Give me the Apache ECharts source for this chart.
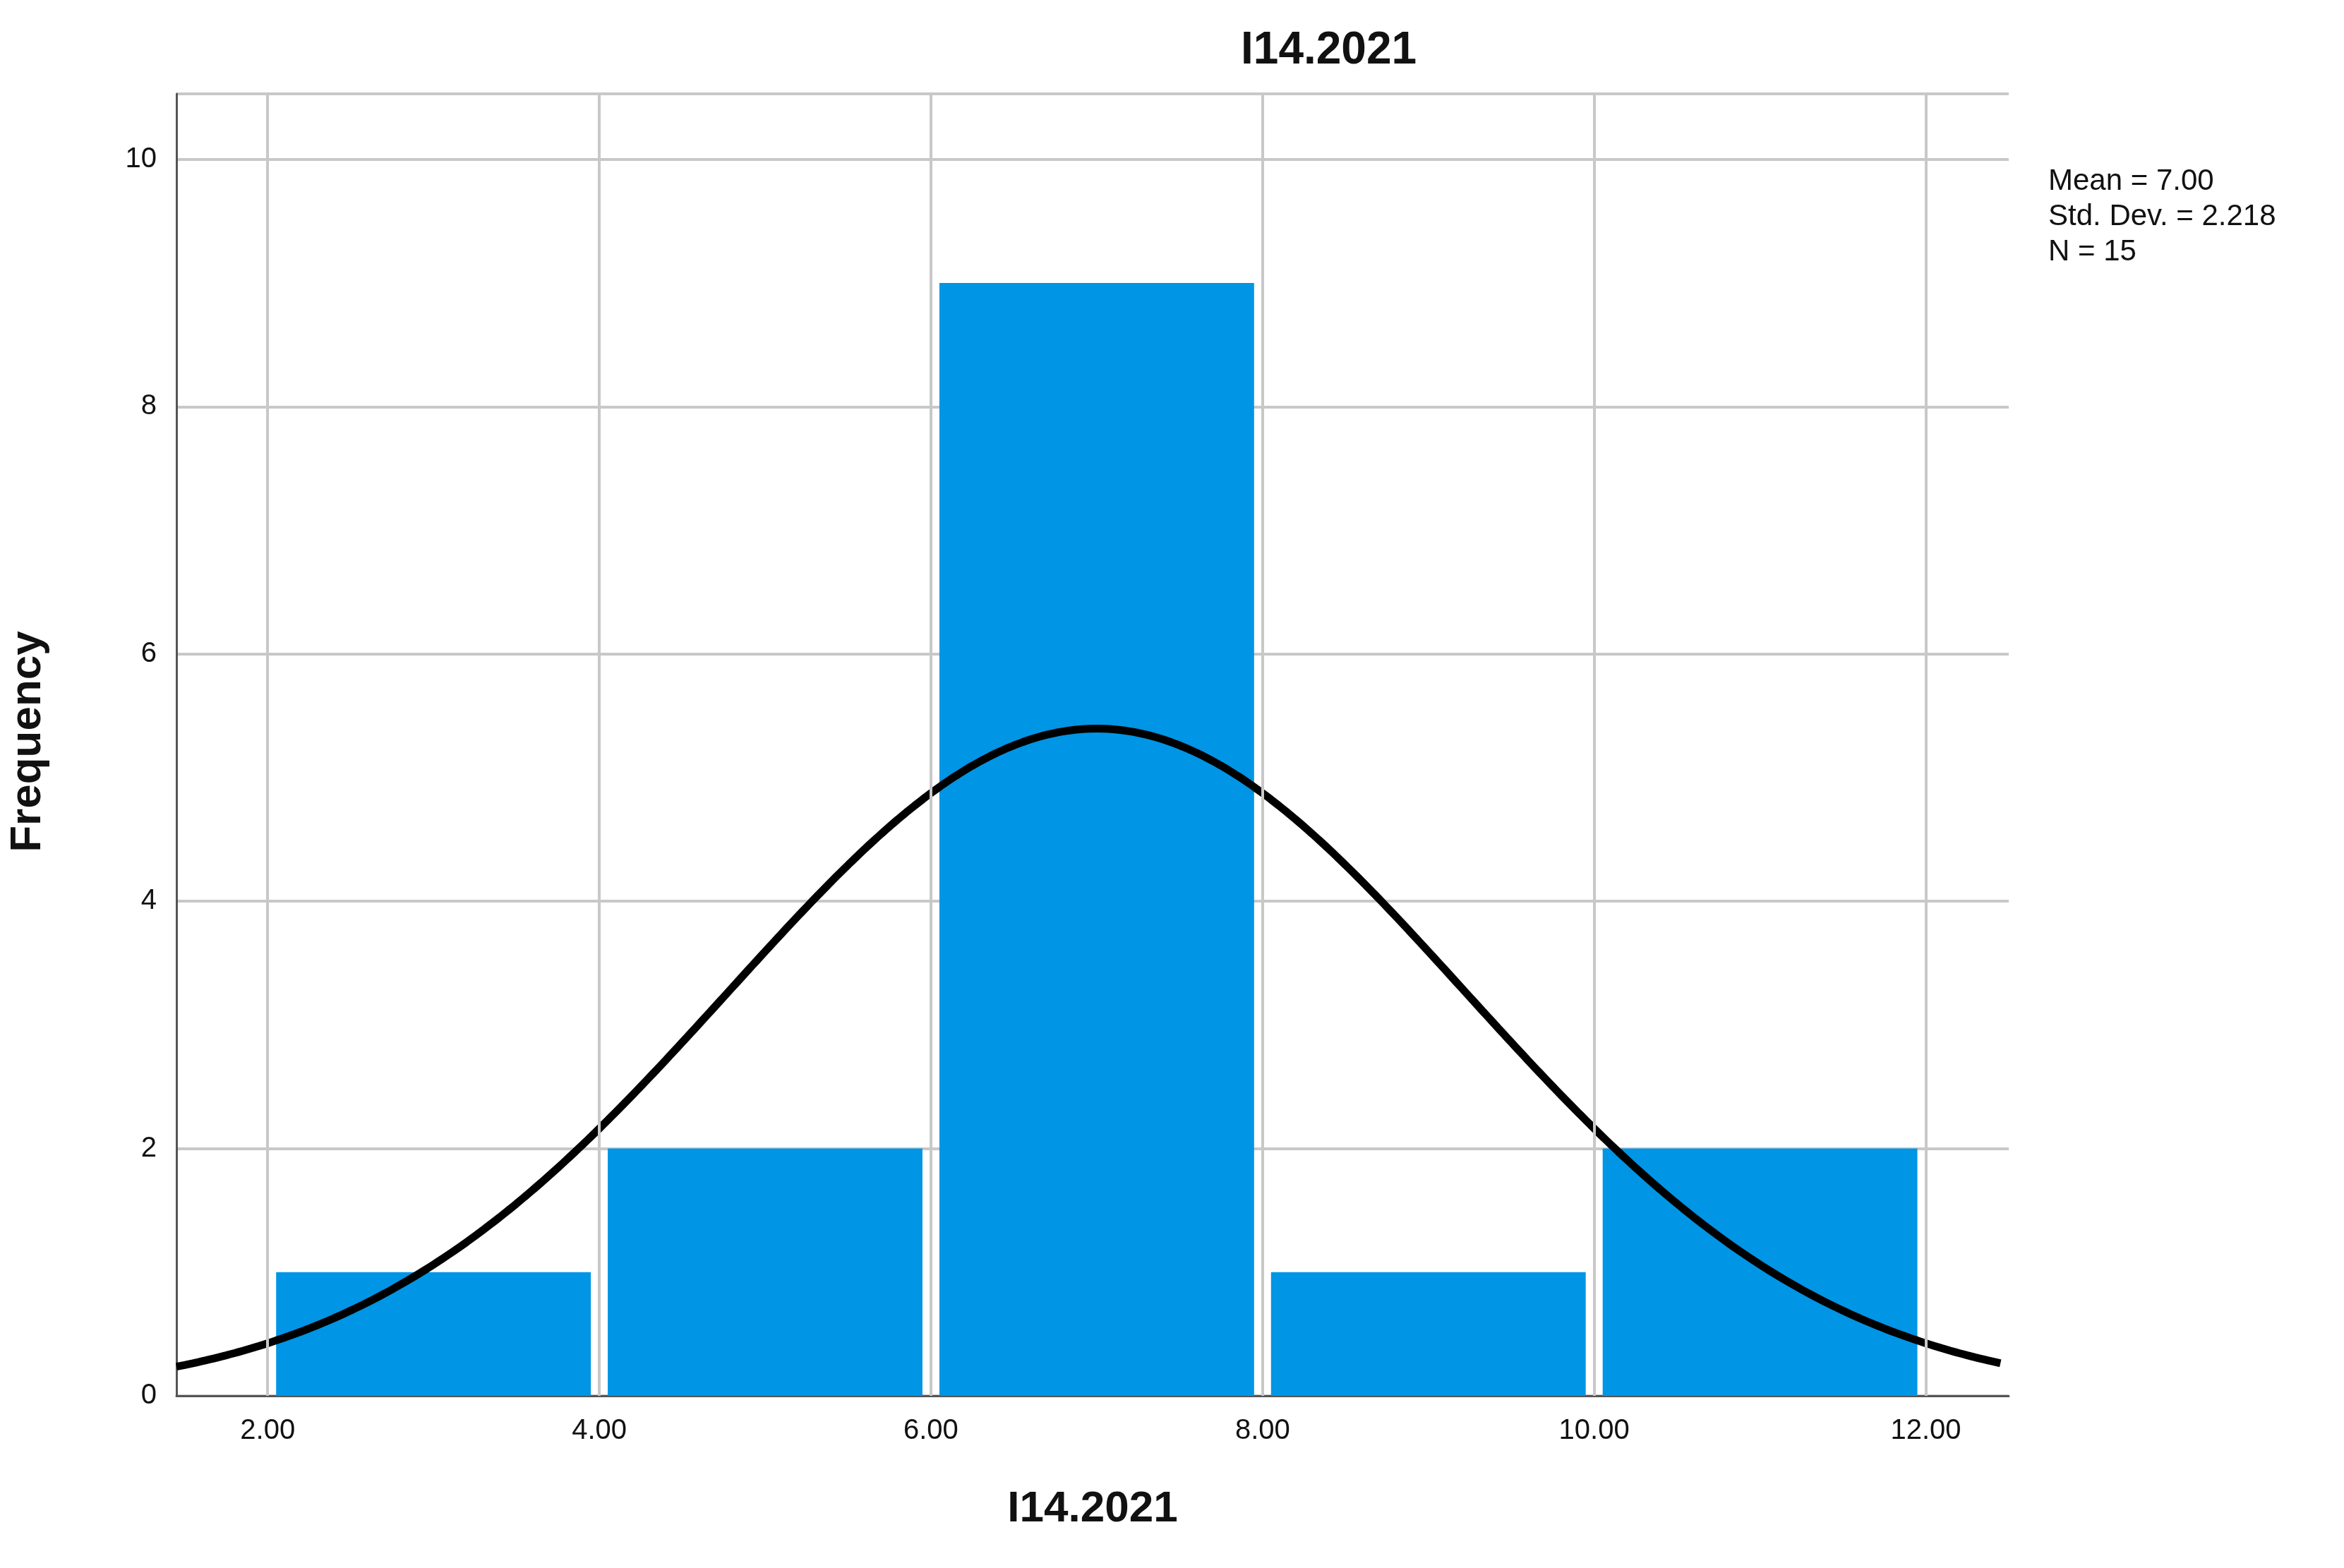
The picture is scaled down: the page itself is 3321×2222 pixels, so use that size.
<!DOCTYPE html>
<html>
<head>
<meta charset="utf-8">
<script src="https://cdn.jsdelivr.net/npm/echarts@6/dist/echarts.min.js"></script>
<style>html,body{margin:0;padding:0;background:#fff}#main{width:3321px;height:2222px}</style>
</head>
<body>
<div id="main"></div>
<script>
var binStarts = [2, 4, 6, 8, 10];
var binEnds = [4, 6, 8, 10, 12];
var counts = [1, 2, 9, 1, 2];
var xTicks = [2, 4, 6, 8, 10, 12];
var stats = { mean: 7.00, sd: 2.218, n: 15 };

var binData = [];
for (var i = 0; i < counts.length; i++) {
  binData.push([binStarts[i], binEnds[i], counts[i]]);
}
// normal curve from the stated mean / sd, scaled to bin width
var curve = [];
for (var x = 1.45; x <= 12.5; x += 0.05) {
  var z = (x - stats.mean) / stats.sd;
  curve.push([x, stats.n * 2 * Math.exp(-z * z / 2) / (stats.sd * Math.sqrt(2 * Math.PI))]);
}

var font = 'Liberation Sans';
var myChart = echarts.init(document.getElementById('main'));
var option = {
  backgroundColor: '#fff',
  animation: false,
  grid: { left: 250, right: 475, top: 133, bottom: 244 },
  xAxis: {
    type: 'value', min: 1.45, max: 12.5,
    axisLine: { lineStyle: { color: '#555', width: 3 } },
    axisTick: { show: false },
    splitLine: { show: false },
    axisLabel: {
      customValues: xTicks, margin: 30, color: '#111',
      fontFamily: font, fontSize: 40,
      formatter: function(v) { return v.toFixed(2); }
    },
    name: 'I14.2021', nameLocation: 'middle', nameGap: 130,
    nameTextStyle: { fontFamily: font, fontSize: 62, fontWeight: 'bold', color: '#111' }
  },
  yAxis: {
    type: 'value', min: 0, max: 10.53, interval: 2,
    axisLine: { show: true, lineStyle: { color: '#555', width: 3 } },
    axisTick: { show: false },
    splitLine: { lineStyle: { color: '#c8c8c8', width: 4 } },
    axisLabel: {
      customValues: [0, 2, 4, 6, 8, 10], margin: 28, color: '#111',
      fontFamily: font, fontSize: 40
    }
  },
  graphic: [
    { type: 'text', left: 1898 - 140, top: 40,
      style: { text: 'I14.2021', font: 'bold 64px ' + font, fill: '#111' } },
    { type: 'text', x: 40, y: 1051, rotation: Math.PI / 2,
      style: { text: 'Frequency', font: 'bold 62px ' + font, fill: '#111',
               textAlign: 'center', textVerticalAlign: 'middle' } },
    { type: 'text', left: 2902, top: 232,
      style: { text: 'Mean = ' + stats.mean.toFixed(2) + '\nStd. Dev. = ' + stats.sd + '\nN = ' + stats.n,
               font: '42px ' + font, fill: '#111', lineHeight: 50 } }
  ],
  series: [
    {
      type: 'line', data: [], silent: true,
      markLine: {
        symbol: 'none', silent: true, label: { show: false },
        lineStyle: { color: '#c8c8c8', width: 4, type: 'solid' },
        data: xTicks.map(function(v) { return { xAxis: v }; })
      }
    },
    {
      type: 'custom', data: binData,
      encode: { x: [0, 1], y: 2 },
      renderItem: function(params, api) {
        var p0 = api.coord([api.value(0), api.value(2)]);
        var p1 = api.coord([api.value(1), 0]);
        return {
          type: 'rect',
          shape: { x: p0[0] + 12, y: p0[1], width: p1[0] - p0[0] - 24, height: p1[1] - p0[1] },
          style: { fill: '#0095e5', stroke: '#ffffff', lineWidth: 0 }
        };
      },
      z: 3
    },
    {
      type: 'line', data: curve, showSymbol: false, smooth: true,
      lineStyle: { color: '#000', width: 11 }, z: 4
    }
  ]
};
myChart.setOption(option);
</script>
</body>
</html>
